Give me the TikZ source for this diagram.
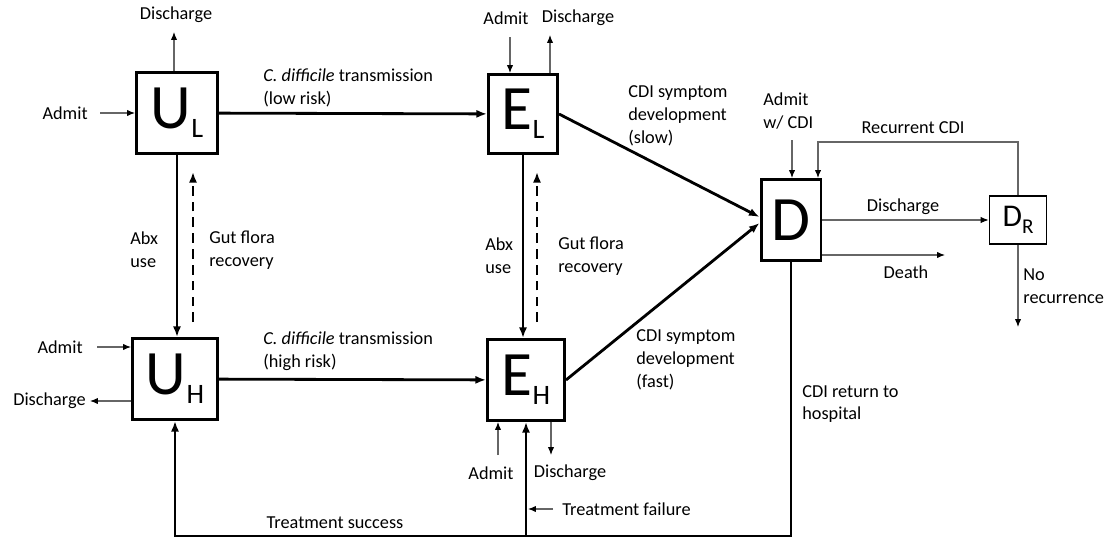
\documentclass[tikz,border=0pt]{standalone}
\usepackage{fontspec}
\setmainfont{Carlito}
\usetikzlibrary{calc}
\usetikzlibrary{positioning}
\usetikzlibrary{arrows.meta}

% big compartment letter with its subscript
\newcommand{\cmpt}[2]{{\fontsize{36}{36}\selectfont #1}\raisebox{-5pt}{\fontsize{16}{16}\selectfont #2}}

\begin{document}
\begin{tikzpicture}[x=0.02cm, y=-0.02cm, >={Latex[length=6pt,width=4.6pt]},
  font=\fontsize{10.4}{13}\selectfont,
  comp/.style={draw, line width=1.7pt, inner sep=0pt},
  flow/.style={->, line width=1.6pt},
  side/.style={->, draw=black!60, line width=0.6pt, >={Latex[length=4.5pt,width=3.6pt,color=black]}},
  lbl/.style={align=left, inner sep=0pt}]
\useasboundingbox (0,0) rectangle (1116,541);

\node (UL) [comp, minimum width=1.62cm, minimum height=1.62cm] at (177,113) {\cmpt{U}{L}};
\node (UH) [comp, minimum width=1.70cm, minimum height=1.62cm] at (175,379) {\cmpt{U}{H}};
\node (EL) [comp, minimum width=1.38cm, minimum height=1.58cm] at (523,114) {\cmpt{E}{L}};
\node (EH) [comp, minimum width=1.54cm, minimum height=1.62cm] at (526,380) {\cmpt{E}{H}};
\node (D)  [comp, minimum width=1.20cm, minimum height=1.62cm] at (791,220) {\fontsize{36}{36}\selectfont D};
\node (DR) [comp, line width=1pt, minimum width=1.14cm, minimum height=0.96cm] at (1018,220)
  {{\fontsize{18}{18}\selectfont D}\raisebox{-4pt}{\fontsize{12}{12}\selectfont R}};

% main flows
\draw[flow] (UL) -- (EL);
\draw[flow] (UH) -- (EH);
\draw[flow] (UL.south) -- (UL.south |- UH.north);
\draw[flow, dash pattern=on 5.5pt off 3.5pt] ($(UH.north)+(18,-15)$) -- ($(UL.south)+(16,17)$);
\draw[flow] (EL.south) -- (EL.south |- EH.north);
\draw[flow, dash pattern=on 5.5pt off 3.5pt] ($(EH.north)+(11,-16)$) -- ($(EL.south)+(14,17)$);
\draw[flow] (EL.east) -- ($(D.west)+(0,-3)$);
\draw[flow] (EH.east) -- ($(D.west)+(0,3)$);
\coordinate (bot) at (791,536);
\draw[flow] (D.south) -- (D.south |- bot) -| (UH.south);
\draw[flow] (EH.south |- bot) -- (EH.south);

\node (txL) [lbl, anchor=west] at (263,88) {\textit{C. difficile} transmission\\(low risk)};
\node (txH) [lbl, anchor=west] at (263,351) {\textit{C. difficile} transmission\\(high risk)};
\node (abxU) [lbl, anchor=west] at (130,250) {Abx\\use};
\node (gutU) [lbl, anchor=west] at (209,250) {Gut flora\\recovery};
\node (abxE) [lbl, anchor=west] at (485,256) {Abx\\use};
\node (gutE) [lbl, anchor=west] at (558,256) {Gut flora\\recovery};
\node (symL) [lbl, anchor=west] at (628,116) {CDI symptom\\development\\(slow)};
\node (symH) [lbl, anchor=west] at (636,360) {CDI symptom\\development\\(fast)};
\node (succ) [lbl] at (335,523) {Treatment success};
\node (ret) [lbl, anchor=west] at (802,404) {CDI return to\\hospital};

% treatment failure pointer
\coordinate (fT) at (553,509);
\draw[side] (fT) -- ($(EH.south |- fT)+(2,0)$);
\node (fail) [lbl, anchor=west] at (562,509) {Treatment failure};

% admissions and discharges
\coordinate (aUL) at (100,113);
\draw[side] (aUL) -- (UL.west);
\node (aULt) [lbl, anchor=east] at (88,113) {Admit};
\coordinate (dUL) at ($(UL.north)+(-3,-39)$);
\draw[side] (UL.north -| dUL) -- (dUL);
\node (dULt) [lbl] at (176,15) {Discharge};

\coordinate (aEL) at (510,37);
\draw[side] (aEL) -- (aEL |- EL.north);
\node (aELt) [lbl] at (506,18) {Admit};
\coordinate (dEL) at (550,35);
\draw[side] (dEL |- EL.north) -- (dEL);
\node (dELt) [lbl] at (578,18) {Discharge};

\coordinate (aUH) at (97,347);
\draw[side] (aUH) -- (aUH -| UH.west);
\node (aUHt) [lbl, anchor=east] at (83,347) {Admit};
\coordinate (dUH) at (90,401);
\draw[side] (dUH -| UH.west) -- (dUH);
\node (dUHt) [lbl, anchor=east] at (86,401) {Discharge};

\coordinate (aEH) at (498,455);
\draw[side] (aEH) -- (aEH |- EH.south);
\node (aEHt) [lbl] at (491,473) {Admit};
\coordinate (dEH) at (551,455);
\draw[side] (dEH |- EH.south) -- (dEH);
\node (dEHt) [lbl] at (570,473) {Discharge};

% D and recurrence
\coordinate (aD) at (792,140);
\draw[side] (aD) -- (aD |- D.north);
\node (aDt) [lbl, anchor=west] at (763,111) {Admit\\w/ CDI};
\coordinate (rc) at (818,142);
\draw[side] (DR.north) |- (rc) -- (rc |- D.north);
\node (rct) [lbl] at (913,128) {Recurrent CDI};
\draw[side] (D.east |- DR.west) -- (DR.west);
\node (dDt) [lbl] at (903,207) {Discharge};
\coordinate (death) at (945,255);
\draw[side] (D.east |- death) -- (death);
\node (deatht) [lbl] at (906,272) {Death};
\coordinate (norec) at (1018,327);
\draw[side] (DR.south) -- (norec);
\node (norect) [lbl, anchor=west] at (1023,286) {No\\recurrence};
\end{tikzpicture}
\end{document}
